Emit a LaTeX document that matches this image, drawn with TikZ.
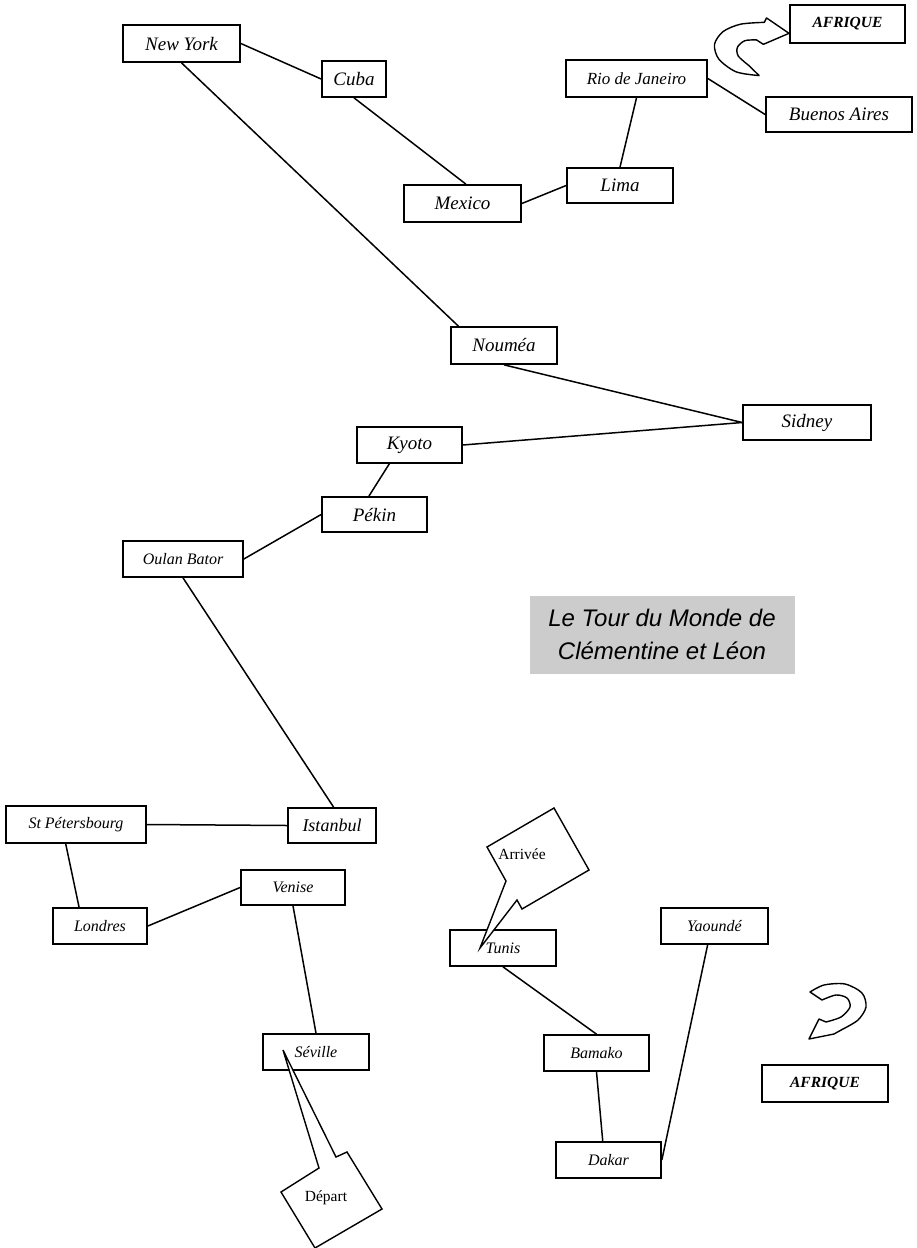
\documentclass[tikz,border=0pt]{standalone}
\usepackage{fontspec}
\setmainfont{Liberation Serif}
\newfontfamily\titrefont{Liberation Sans}

\tikzset{
	ville/.style={draw, line width=1.7pt, inner sep=0pt, fill=white, minimum height=36pt, font=\itshape\fontsize{19}{22}\selectfont},
	petite/.style={font=\itshape\fontsize{16}{19}\selectfont},
	continent/.style={ville, font=\bfseries\itshape\fontsize{15.5}{18}\selectfont},
	trajet/.style={line width=1.5pt},
	bulle/.style={draw, line width=1.4pt, fill=white, line join=miter},
	fleche/.style={draw, line width=1.4pt, fill=white, line join=round},
}

\begin{document}
\begin{tikzpicture}[x=1pt, y=-1pt]
	\useasboundingbox (0,0) rectangle (917,1248);
	
	% Amerique
	\node[ville, minimum width=117pt, minimum height=37pt] (NewYork) at (181.5,43.5) {New York};
	\node[ville, minimum width=64pt] (Cuba) at (354,79) {Cuba};
	\node[ville, petite, minimum width=141pt, minimum height=37pt, font=\itshape\fontsize{17}{20}\selectfont] (Rio) at (636.5,78.5) {Rio de Janeiro};
	\node[ville, minimum width=146pt, minimum height=35pt] (BuenosAires) at (839,114.5) {Buenos Aires};
	\node[ville, minimum width=106pt, minimum height=35pt] (Lima) at (620,185.5) {Lima};
	\node[ville, minimum width=117pt, minimum height=37pt] (Mexico) at (462.5,203.5) {Mexico};
	\node[continent, minimum width=115pt, minimum height=38pt] (AfriqueHaut) at (847.5,24) {AFRIQUE};
	
	% Oceanie et Asie
	\node[ville, minimum width=106pt, minimum height=37pt] (Noumea) at (504,345.5) {Nouméa};
	\node[ville, minimum width=128pt, minimum height=35pt] (Sidney) at (807,422.5) {Sidney};
	\node[ville, minimum width=105pt] (Kyoto) at (409.5,445) {Kyoto};
	\node[ville, minimum width=105pt, minimum height=35pt] (Pekin) at (374.5,514.5) {Pékin};
	\node[ville, petite, minimum width=120pt] (OulanBator) at (183,559) {Oulan Bator};
	
	% Europe
	\node[ville, petite, minimum width=140pt, minimum height=37pt] (StPetersbourg) at (76,824.5) {St Pétersbourg};
	\node[ville, petite, minimum width=88pt, minimum height=35pt, font=\itshape\fontsize{18}{21}\selectfont] (Istanbul) at (332,825.5) {Istanbul};
	\node[ville, petite, minimum width=104pt, minimum height=35pt] (Venise) at (293,887.5) {Venise};
	\node[ville, petite, minimum width=94pt] (Londres) at (100,926) {Londres};
	\node[ville, petite, minimum width=106pt] (Seville) at (316,1052) {Séville};
	
	% Afrique
	\node[ville, petite, minimum width=106pt] (Tunis) at (503,948) {Tunis};
	\node[ville, petite, minimum width=107pt] (Yaounde) at (714.5,926) {Yaoundé};
	\node[ville, petite, minimum width=105pt] (Bamako) at (596.5,1053) {Bamako};
	\node[ville, petite, minimum width=105pt] (Dakar) at (608.5,1160) {Dakar};
	\node[continent, minimum width=126pt, minimum height=37pt] (AfriqueBas) at (825,1083.5) {AFRIQUE};
	
	% Titre
	\fill[black!20] (530,596) rectangle (795,674);
	\node[font=\titrefont\itshape\fontsize{24}{33}\selectfont, align=center] (Titre) at (662,634) {Le Tour du Monde de\\Clémentine et Léon};
	
	% Trajet
	\draw[trajet] (NewYork.east) -- (Cuba.west);
	\draw[trajet] (Cuba.south) -- (Mexico.80);
	\draw[trajet] (Mexico.east) -- (Lima.west);
	\draw[trajet] (Lima.north) -- (Rio.south);
	\draw[trajet] (Rio.east) -- (BuenosAires.west);
	\draw[trajet] (NewYork.south) -- (Noumea.157);
	\draw[trajet] (Noumea.south) -- (Sidney.west);
	\draw[trajet] (Sidney.west) -- (Kyoto.east);
	\draw[trajet] (Kyoto.-137) -- (Pekin.107);
	\draw[trajet] (Pekin.west) -- (OulanBator.east);
	\draw[trajet] (OulanBator.south) -- (Istanbul.85);
	\draw[trajet] (Istanbul.west) -- (StPetersbourg.east);
	\draw[trajet] (StPetersbourg.-118) -- (Londres.138);
	\draw[trajet] (Londres.east) -- (Venise.west);
	\draw[trajet] (Venise.south) -- (Seville.north);
	\draw[trajet] (Tunis.south) -- (Bamako.north);
	\draw[trajet] (Bamako.south) -- (Dakar.107);
	\draw[trajet] (Dakar.east) -- (Yaounde.-110);
	
	% Bulles
	\draw[bulle] (554,808) -- (589,870) -- (522,909) -- (517,900) -- (480,948) -- (506,881) -- (487,847) -- cycle;
	\node (Arrivee) at (522,854) {\fontsize{15.5}{18}\selectfont Arrivée};
	\draw[bulle] (347,1152) -- (382,1209) -- (315,1248) -- (281,1192) -- (319,1168) -- (283,1050) -- (336,1157) -- cycle;
	\node (Depart) at (326,1198) {\fontsize{15.5}{18}\selectfont Départ};
	
	% Fleches courbes
	\begin{scope}[shift={(789,33)}, xscale=1.3, yscale=1.1, shift={(-789,-33)}]
		\draw[fleche] plot[smooth] coordinates {(766,71.7) (748.3,68.3) (735,56.7) (731.7,43.3) (738.3,31.7) (751.7,25) (770,23.3)}
			-- (771.7,19.3) -- (789,33.3) -- (769.3,43.3)
			-- plot[smooth] coordinates {(764,39.3) (755,40) (749.3,46) (750,54) (758.3,62.7)} -- cycle;
	\end{scope}
	\draw[fleche] plot[smooth] coordinates {(810,992) (824,985) (845,984) (862,993) (866,1007) (858,1020) (843,1029)}
		-- (834,1034) -- (809,1039) -- (819,1019)
		-- plot[smooth] coordinates {(826,1022) (841,1017) (850,1007) (847,998) (836,995) (822,1000)} -- cycle;
\end{tikzpicture}
\end{document}
